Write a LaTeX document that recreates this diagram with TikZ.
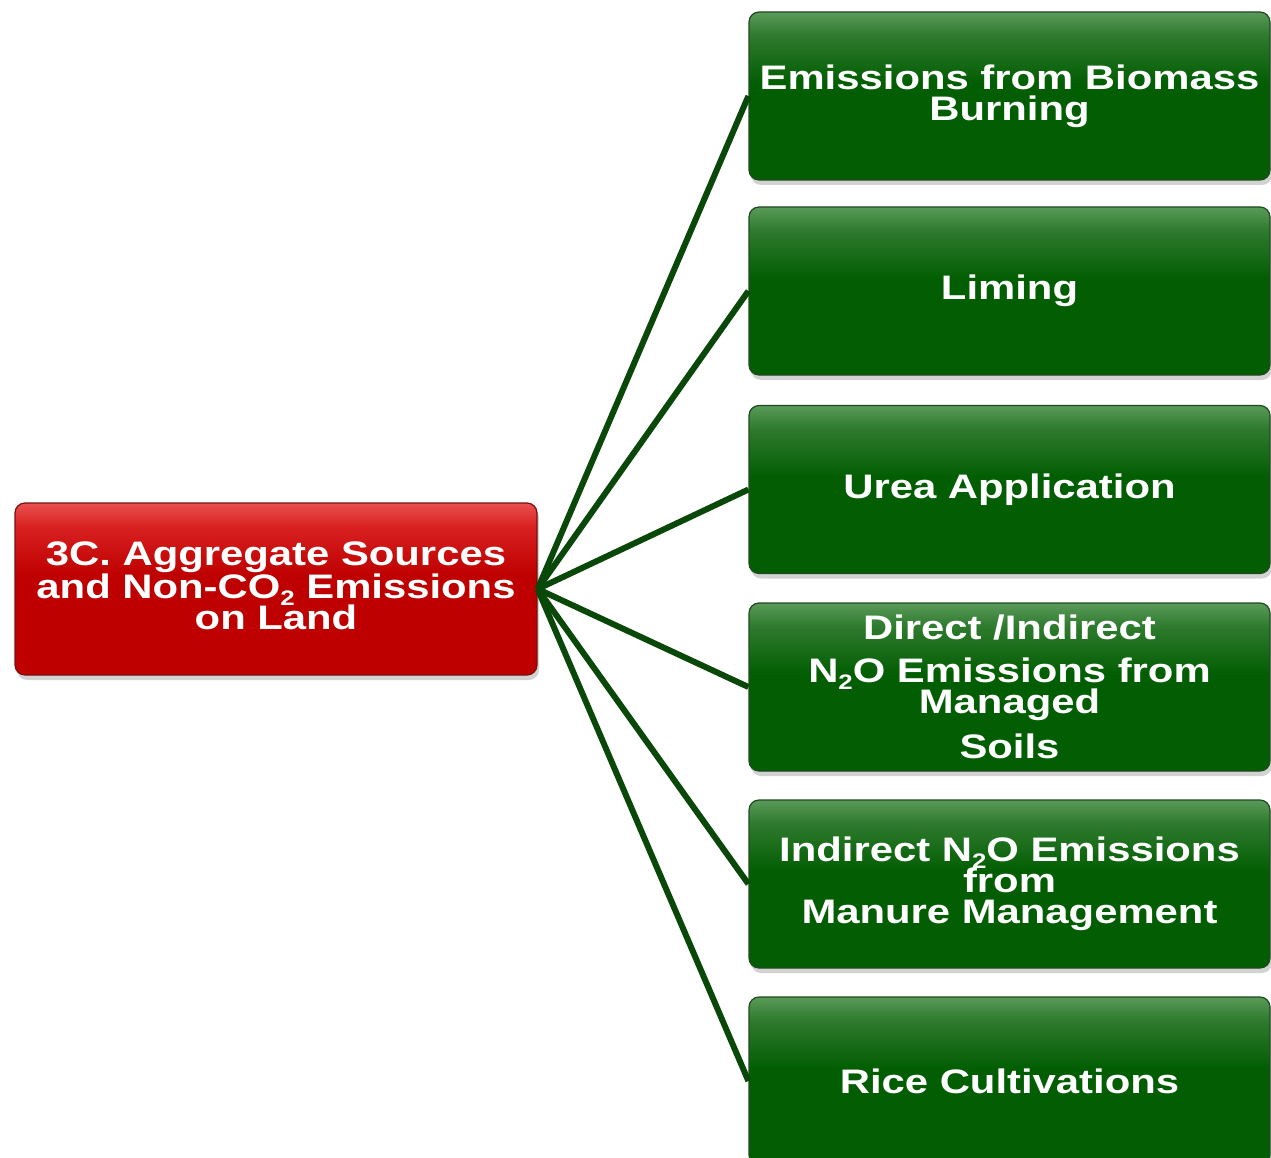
\documentclass[tikz,border=0pt]{standalone}
\usepackage{fontspec}
\newfontfamily\boxfont{Liberation Sans}[FakeStretch=1.23]
\usetikzlibrary{shadows}
\definecolor{gtop}{HTML}{5A9A5A}
\definecolor{gmid}{HTML}{2E7A2E}
\definecolor{gbot}{HTML}{035E03}
\definecolor{gedge}{HTML}{1F4A1F}
\definecolor{rtop}{HTML}{EA5050}
\definecolor{rmid}{HTML}{D82020}
\definecolor{rbot}{HTML}{BE0000}
\definecolor{redge}{HTML}{7A1010}
\definecolor{linkc}{HTML}{0A480A}
\pgfdeclareverticalshading{gshade}{100bp}{color(0bp)=(gbot); color(25bp)=(gbot); color(54bp)=(gbot); color(68bp)=(gmid); color(75bp)=(gtop); color(100bp)=(gtop)}
\pgfdeclareverticalshading{rshade}{100bp}{color(0bp)=(rbot); color(25bp)=(rbot); color(54bp)=(rbot); color(68bp)=(rmid); color(75bp)=(rtop); color(100bp)=(rtop)}
\newcommand\mysub[1]{\raisebox{-0.35ex}{\fontsize{21}{21}\selectfont #1}}
\tikzset{
  boxbase/.style={rounded corners=10pt, line width=1.2pt, text=white,
    font=\boxfont\bfseries\fontsize{34}{31}\selectfont, align=center, inner sep=0pt,
    drop shadow={opacity=0.35, shadow xshift=2pt, shadow yshift=-5pt}},
  gbox/.style={boxbase, minimum width=521pt, minimum height=168pt,
    draw=gedge, shading=gshade},
  rbox/.style={boxbase, minimum width=522pt, minimum height=172pt,
    draw=redge, shading=rshade},
  link/.style={draw=linkc, line width=6pt}
}
\begin{document}
\begin{tikzpicture}[x=1pt,y=-1pt]
\useasboundingbox[fill=white] (0,0) rectangle (1271,1158);
\node[rbox] (root) at (276,589) {3C. Aggregate Sources\\and Non-CO\mysub{2} Emissions\\on Land\\[-25pt]};
\node[gbox] (b1) at (1009.5,96) {Emissions from Biomass\\Burning};
\node[gbox] (b2) at (1009.5,291) {Liming};
\node[gbox] (b3) at (1009.5,489.5) {Urea Application};
\node[gbox] (b4) at (1009.5,687) {Direct /Indirect\\[12pt]N\mysub{2}O Emissions from\\Managed\\[12pt]Soils};
\node[gbox] (b5) at (1009.5,884) {Indirect N\mysub{2}O Emissions\\from\\Manure Management};
\node[gbox] (b6) at (1009.5,1081) {Rice Cultivations};
\foreach \b in {b1,b2,b3,b4,b5,b6}{
  \draw[link] (root.east) -- (\b.west);
}
\end{tikzpicture}
\end{document}
